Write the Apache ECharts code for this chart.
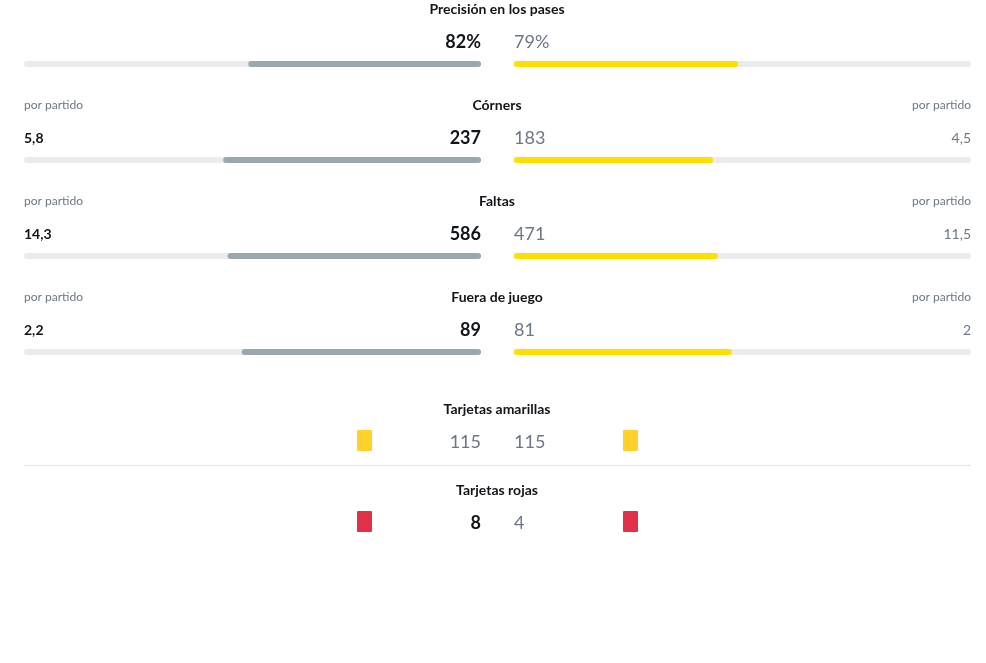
<!DOCTYPE html>
<html>
<head>
<meta charset="utf-8">
<script src="https://cdn.jsdelivr.net/npm/echarts@6/dist/echarts.min.js"></script>
<style>
  html,body{margin:0;padding:0;background:#fff;}
  #main{width:986px;height:663px;}
</style>
</head>
<body>
<div id="main"></div>
<script>
// estadisticas por equipo
var categorias = ['Precisión en los pases', 'Córners', 'Faltas', 'Fuera de juego'];
var local = [82, 237, 586, 89];
var visitante = [79, 183, 471, 81];
var sufijo = ['%', '', '', ''];
var localPorPartido = [null, '5,8', '14,3', '2,2'];
var visitantePorPartido = [null, '4,5', '11,5', '2'];

var tarjetas = ['Tarjetas amarillas', 'Tarjetas rojas'];
var tarjetasLocal = [115, 8];
var tarjetasVisitante = [115, 4];
var colorTarjeta = ['#ffd12a', '#e0304a'];

var FONT = 'Lato, sans-serif';
var OSCURO = '#111418';
var GRIS = '#6b7785';

var myChart = echarts.init(document.getElementById('main'));

var cuotaLocal = local.map(function (v, i) { return v / (v + visitante[i]); });
var cuotaVisit = visitante.map(function (v, i) { return v / (v + local[i]); });

var top0 = 16, paso = 96;
var graficos = [];

function texto(x, y, str, align, size, weight, color) {
    graficos.push({
        type: 'text', x: x, y: y + 1,
        style: {
            text: str, align: align, verticalAlign: 'middle',
            font: weight + ' ' + size + 'px ' + FONT, fill: color
        }
    });
}

categorias.forEach(function (c, i) {
    var y = top0 + (i + 0.5) * paso;
    texto(497, y - 56, c, 'center', 14, 'bold', OSCURO);
    var lg = local[i] > visitante[i], vg = visitante[i] > local[i];
    texto(481, y - 23, local[i] + sufijo[i], 'right', 18, lg ? 'bold' : 'normal', lg ? OSCURO : GRIS);
    texto(514, y - 23, visitante[i] + sufijo[i], 'left', 18, vg ? 'bold' : 'normal', vg ? OSCURO : GRIS);
    if (localPorPartido[i] !== null) {
        texto(24, y - 56, 'por partido', 'left', 12, 'normal', GRIS);
        texto(971, y - 56, 'por partido', 'right', 12, 'normal', GRIS);
        texto(24, y - 23, localPorPartido[i], 'left', 14, 'bold', OSCURO);
        texto(971, y - 23, visitantePorPartido[i], 'right', 14, 'normal', GRIS);
    }
});

tarjetas.forEach(function (t, i) {
    var y = 441 + i * 81;
    texto(497, y - 33, t, 'center', 14, 'bold', OSCURO);
    var lg = tarjetasLocal[i] > tarjetasVisitante[i], vg = tarjetasVisitante[i] > tarjetasLocal[i];
    texto(481, y, String(tarjetasLocal[i]), 'right', 18, lg ? 'bold' : 'normal', lg ? OSCURO : GRIS);
    texto(514, y, String(tarjetasVisitante[i]), 'left', 18, vg ? 'bold' : 'normal', vg ? OSCURO : GRIS);
    [357, 623].forEach(function (x) {
        graficos.push({
            type: 'rect', shape: { x: x, y: y - 11, width: 15, height: 21, r: 1 },
            style: { fill: colorTarjeta[i] }
        });
    });
});

graficos.push({
    type: 'line', shape: { x1: 24, y1: 465.5, x2: 971, y2: 465.5 },
    style: { stroke: '#e3e3e3', lineWidth: 1 }
});

var option = {
    animation: false,
    grid: [
        { left: 24, right: 505, top: top0, height: paso * categorias.length },
        { left: 514, right: 15, top: top0, height: paso * categorias.length }
    ],
    xAxis: [
        { gridIndex: 0, type: 'value', min: 0, max: 1, inverse: true, show: false },
        { gridIndex: 1, type: 'value', min: 0, max: 1, show: false }
    ],
    yAxis: [
        { gridIndex: 0, type: 'category', data: categorias, inverse: true, show: false },
        { gridIndex: 1, type: 'category', data: categorias, inverse: true, show: false }
    ],
    series: [
        {
            type: 'bar', xAxisIndex: 0, yAxisIndex: 0, data: cuotaLocal, barWidth: 6,
            itemStyle: { color: '#9aa8b0', borderRadius: 3 },
            showBackground: true,
            backgroundStyle: { color: '#ebebee', borderRadius: 3 }
        },
        {
            type: 'bar', xAxisIndex: 1, yAxisIndex: 1, data: cuotaVisit, barWidth: 6,
            itemStyle: { color: '#ffe100', borderRadius: 3 },
            showBackground: true,
            backgroundStyle: { color: '#ebebee', borderRadius: 3 }
        }
    ],
    graphic: graficos
};

myChart.setOption(option);
</script>
</body>
</html>
